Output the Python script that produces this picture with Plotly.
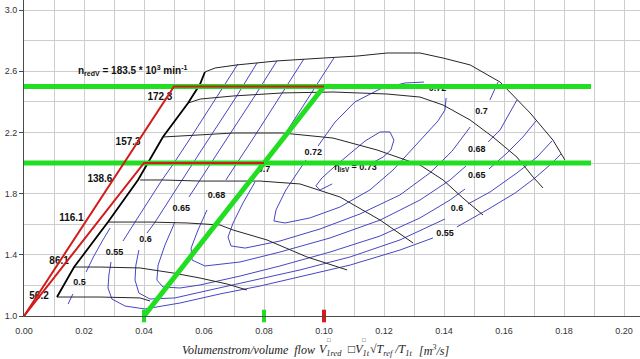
import plotly.graph_objects as go

# ---------------- data (volume flow [m^3/s], pressure ratio [-]) ----------------
# speed lines n_redV [10^3 min^-1]
n1835_x = [0.0603, 0.0637, 0.0710, 0.0843, 0.0997, 0.1110, 0.1210, 0.1320, 0.1397, 0.1487, 0.1587, 0.1687, 0.1763, 0.1803]
n1835_y = [2.595, 2.621, 2.641, 2.667, 2.686, 2.699, 2.719, 2.719, 2.686, 2.641, 2.529, 2.327, 2.150, 2.020]
n1723_x = [0.0547, 0.0587, 0.0697, 0.0863, 0.1030, 0.1210, 0.1320, 0.1397, 0.1487, 0.1563, 0.1643, 0.1697, 0.1730]
n1723_y = [2.392, 2.418, 2.438, 2.458, 2.464, 2.451, 2.431, 2.379, 2.281, 2.170, 2.039, 1.908, 1.837]
n1573_x = [0.0463, 0.0587, 0.0697, 0.0863, 0.1030, 0.1177, 0.1320, 0.1397, 0.1463, 0.1530]
n1573_y = [2.170, 2.183, 2.196, 2.196, 2.163, 2.085, 1.987, 1.889, 1.771, 1.660]
n1386_x = [0.0387, 0.0463, 0.0587, 0.0787, 0.0920, 0.1053, 0.1187, 0.1297]
n1386_y = [1.889, 1.889, 1.882, 1.882, 1.863, 1.778, 1.627, 1.477]
n1161_x = [0.0280, 0.0420, 0.0543, 0.0653, 0.0697, 0.0810, 0.0943, 0.1077]
n1161_y = [1.614, 1.614, 1.608, 1.595, 1.562, 1.497, 1.386, 1.301]
n861_x = [0.0167, 0.0253, 0.0387, 0.0497, 0.0587, 0.0677, 0.0743]
n861_y = [1.320, 1.320, 1.314, 1.281, 1.248, 1.209, 1.170]
n562_x = [0.0110, 0.0253, 0.0387, 0.0420]
n562_y = [1.124, 1.124, 1.118, 1.098]
surge_x = [0.0110, 0.0167, 0.0280, 0.0380, 0.0463, 0.0547, 0.0587, 0.0603]
surge_y = [1.124, 1.320, 1.614, 1.889, 2.170, 2.392, 2.516, 2.595]

# efficiency contours eta_isV
eta050_x = [0.0147, 0.0163, None, 0.0207, 0.0233, 0.0263, 0.0287]
eta050_y = [1.078, 1.144, None, 1.288, 1.392, 1.497, 1.575]
eta055_x = [0.0713, 0.0643, 0.0557, 0.0500, 0.0460, 0.0370, 0.0330, None, 0.0290, 0.0283, 0.0280, 0.0293, 0.0337,
            0.0403, 0.0520, 0.0653, 0.0787, 0.0920, 0.1087, 0.1253, 0.1363, None, 0.1443, 0.1543, 0.1637, 0.1703, 0.1753, 0.1790]
eta055_y = [2.647, 2.431, 2.170, 2.000, 1.889, 1.614, 1.490, None, 1.353, 1.268, 1.183, 1.111, 1.065,
            1.046, 1.085, 1.144, 1.196, 1.255, 1.333, 1.431, 1.510, None, 1.582, 1.693, 1.804, 1.902, 1.987, 2.059]
eta060_x = [0.0777, 0.0707, 0.0620, 0.0563, 0.0527, 0.0437, 0.0410, None, 0.0383, 0.0373, 0.0370, 0.0383, 0.0420,
            0.0503, 0.0620, 0.0753, 0.0920, 0.1087, 0.1253, 0.1403, None, 0.1480, 0.1553, 0.1643, 0.1710, 0.1760]
eta060_y = [2.654, 2.431, 2.170, 2.000, 1.889, 1.614, 1.542, None, 1.431, 1.333, 1.235, 1.150, 1.111,
            1.118, 1.170, 1.229, 1.301, 1.386, 1.497, 1.634, None, 1.732, 1.810, 1.935, 2.039, 2.144]
eta065_x = [0.0843, 0.0767, 0.0680, 0.0623, 0.0587, 0.0550, None, 0.0503, 0.0470, 0.0447, 0.0443, 0.0463, 0.0520,
            0.0587, 0.0720, 0.0853, 0.1020, 0.1187, 0.1320, 0.1420, 0.1470, None, 0.1550, 0.1610, 0.1663, 0.1707]
eta065_y = [2.667, 2.431, 2.170, 2.000, 1.889, 1.778, None, 1.614, 1.464, 1.333, 1.235, 1.190, 1.183,
            1.203, 1.261, 1.327, 1.418, 1.523, 1.641, 1.758, 1.830, None, 1.961, 2.065, 2.170, 2.275]
eta068_x = [0.0933, 0.0853, 0.0767, 0.0710, 0.0673, None, 0.0610, 0.0580, 0.0557, 0.0560, 0.0603, 0.0720, 0.0853,
            0.1020, 0.1187, 0.1320, 0.1420, 0.1473, None, 0.1547, 0.1587, 0.1613, 0.1643]
eta068_y = [2.680, 2.431, 2.170, 2.000, 1.889, None, 1.693, 1.562, 1.444, 1.366, 1.327, 1.353, 1.418,
            1.510, 1.627, 1.758, 1.889, 1.980, None, 2.137, 2.216, 2.307, 2.412]
eta070_x = [0.1033, 0.0950, 0.0863, 0.0823, None, 0.0770, 0.0730, 0.0697, 0.0680, 0.0690, 0.0737, 0.0853, 0.0987,
            0.1120, 0.1253, 0.1353, 0.1427, 0.1487, None, 0.1553, 0.1580]
eta070_y = [2.686, 2.431, 2.170, 2.046, None, 1.876, 1.739, 1.608, 1.516, 1.458, 1.444, 1.490, 1.569,
            1.667, 1.791, 1.935, 2.078, 2.235, None, 2.412, 2.529]
eta072_x = [0.0980, 0.1037, 0.1103, 0.1187, 0.1270, 0.1333, None, 0.1407, 0.1403, 0.1380, 0.1337, 0.1287, 0.1230,
            0.1153, 0.1053, 0.0953, 0.0870, 0.0833, 0.0840, 0.0873, 0.0910, 0.0940]
eta072_y = [2.111, 2.268, 2.399, 2.484, 2.523, 2.529, None, 2.425, 2.346, 2.275, 2.183, 2.072, 1.954,
            1.824, 1.712, 1.641, 1.608, 1.621, 1.693, 1.824, 1.935, 2.020]
eta073_x = [0.1160, 0.1197, 0.1223, 0.1233, 0.1220, 0.1187, 0.1137, 0.1087, 0.1037, 0.0993, 0.0973, 0.0987, 0.1027]
eta073_y = [2.000, 2.039, 2.085, 2.150, 2.203, 2.203, 2.144, 2.065, 1.980, 1.902, 1.850, 1.824, 1.863]

# labels
speed_text = ["172.3", "157.3", "138.6", "116.1", "86.1", "56.2"]
speed_lab_x = [0.0453, 0.0347, 0.0253, 0.0158, 0.0117, 0.0050]
speed_lab_y = [2.431, 2.131, 1.889, 1.639, 1.355, 1.126]
top_speed_text = "n<sub>redV</sub> = 183.5 * 10<sup>3</sup> min<sup>-1</sup>"
top_speed_x = [0.0180]
top_speed_y = [2.597]
eta_text = ["0.5", "0.55", "0.6", "0.65", "0.68", "0.7", "0.72", "η<sub>isV</sub> = 0.73",
            "0.72", "0.7", "0.68", "0.65", "0.6", "0.55"]
eta_lab_x = [0.0185, 0.0302, 0.0405, 0.0524, 0.0642, 0.0800, 0.0964, 0.1105,
             0.1378, 0.1525, 0.1509, 0.1509, 0.1443, 0.1403]
eta_lab_y = [1.216, 1.414, 1.497, 1.699, 1.784, 1.954, 2.067, 1.967,
             2.484, 2.333, 2.085, 1.915, 1.699, 1.536]

# operating lines
green_levels = [2.0, 2.5]
green_h_x = [0.0, 0.189]
green_diag_x = [0.04, 0.10]
green_diag_y = [1.0, 2.5]
red1_x = [0.0, 0.05, 0.10]
red1_y = [1.0, 2.5, 2.5]
red2_x = [0.0, 0.04, 0.08]
red2_y = [1.0, 2.0, 2.0]
green_marks = [0.04, 0.08]
red_marks = [0.10]

# ---------------- figure ----------------
BLUE = "#4646c4"
SPEED = "#262626"
GREEN = "#22de22"
RED = "#d21c1c"
SANS = "Liberation Sans, Arial, sans-serif"
SERIF = "Liberation Serif, Times New Roman, serif"

fig = go.Figure()


def add_line(x, y, color, width):
    fig.add_trace(go.Scatter(x=x, y=y, mode="lines", line=dict(color=color, width=width),
                             hoverinfo="skip", connectgaps=False))


for cx, cy in [(eta050_x, eta050_y), (eta055_x, eta055_y), (eta060_x, eta060_y), (eta065_x, eta065_y),
               (eta068_x, eta068_y), (eta070_x, eta070_y), (eta072_x, eta072_y), (eta073_x, eta073_y)]:
    add_line(cx, cy, BLUE, 1)

for sx, sy in [(n1835_x, n1835_y), (n1723_x, n1723_y), (n1573_x, n1573_y), (n1386_x, n1386_y),
               (n1161_x, n1161_y), (n861_x, n861_y), (n562_x, n562_y)]:
    add_line(sx, sy, SPEED, 1)
add_line(surge_x, surge_y, "#000000", 1.8)

# text labels (drawn below the operating lines)
fig.add_trace(go.Scatter(x=eta_lab_x, y=eta_lab_y, mode="text",
                         text=["<b>" + t + "</b>" for t in eta_text],
                         textfont=dict(family=SANS, size=9, color="#111111"),
                         textposition="middle center", hoverinfo="skip"))
fig.add_trace(go.Scatter(x=speed_lab_x, y=speed_lab_y, mode="text",
                         text=["<b>" + t + "</b>" for t in speed_text],
                         textfont=dict(family=SANS, size=10, color="#111111"),
                         textposition="middle center", hoverinfo="skip"))
fig.add_trace(go.Scatter(x=top_speed_x, y=top_speed_y, mode="text",
                         text=["<b>" + top_speed_text + "</b>"],
                         textfont=dict(family=SANS, size=10, color="#111111"),
                         textposition="middle right", hoverinfo="skip"))

# green operating lines
for lev in green_levels:
    add_line(green_h_x, [lev, lev], GREEN, 5)
add_line(green_diag_x, green_diag_y, GREEN, 5)
# red lines
add_line(red1_x, red1_y, RED, 2)
add_line(red2_x, red2_y, RED, 2)

# axis markers
fig.add_trace(go.Scatter(x=green_marks, y=[1.0] * len(green_marks), mode="markers", cliponaxis=False,
                         marker=dict(symbol="line-ns", size=9, line=dict(color=GREEN, width=4)),
                         hoverinfo="skip"))
fig.add_trace(go.Scatter(x=red_marks, y=[1.0] * len(red_marks), mode="markers", cliponaxis=False,
                         marker=dict(symbol="line-ns", size=9, line=dict(color=RED, width=4)),
                         hoverinfo="skip"))

GRID = "#cdcdcd"
fig.update_layout(
    width=640, height=359,
    margin=dict(l=24, r=0, t=0, b=43, pad=0, autoexpand=False),
    paper_bgcolor="white", plot_bgcolor="white",
    showlegend=False,
    xaxis=dict(range=[0, 0.20533], tick0=0, dtick=0.02, tickformat=".2f", automargin=False,
               showgrid=True, gridcolor=GRID, gridwidth=1,
               minor=dict(tick0=0, dtick=0.01, showgrid=True, gridcolor=GRID, gridwidth=1),
               showline=True, linecolor="#4a4a4a", linewidth=1, zeroline=False, ticks="",
               ticklabelstandoff=6,
               tickfont=dict(family=SANS, size=9, color="#333333")),
    yaxis=dict(range=[1.0, 3.0654], tick0=1.0, dtick=0.4, tickformat=".1f", automargin=False,
               showgrid=True, gridcolor=GRID, gridwidth=1,
               minor=dict(tick0=1.0, dtick=0.2, showgrid=True, gridcolor=GRID, gridwidth=1),
               showline=True, linecolor="#4a4a4a", linewidth=1, zeroline=False,
               ticks="outside", ticklen=4, tickcolor="#4a4a4a",
               tickfont=dict(family=SANS, size=9, color="#333333")),
)

title_parts = [
    ("<i>Volumenstrom/volume  flow</i>", 0.052, -34, 12),
    ("<i>V</i><sub><i>1red</i></sub>", 0.0977, -34, 12),
    ("□<i>V</i><sub><i>1t</i></sub>", 0.1073, -34, 12),
    ("√<i>T<sub>ref</sub> /T<sub>1t</sub></i>", 0.1147, -34, 12),
    ("<i>[m<sup>3</sup>/s]</i>", 0.1310, -34, 12),
    ("□", 0.1003, -24, 6),
    ("□", 0.1120, -24, 6),
]
for txt, xpos, ys, fs in title_parts:
    fig.add_annotation(text=txt, x=xpos, xref="x", y=0, yref="paper", yshift=ys,
                       xanchor="left", yanchor="middle", showarrow=False,
                       font=dict(family=SERIF, size=fs, color="#222222"))

fig.write_html("out.html", config={"displayModeBar": False},
               post_script="document.body.style.margin='0px';document.body.style.overflow='hidden';")
